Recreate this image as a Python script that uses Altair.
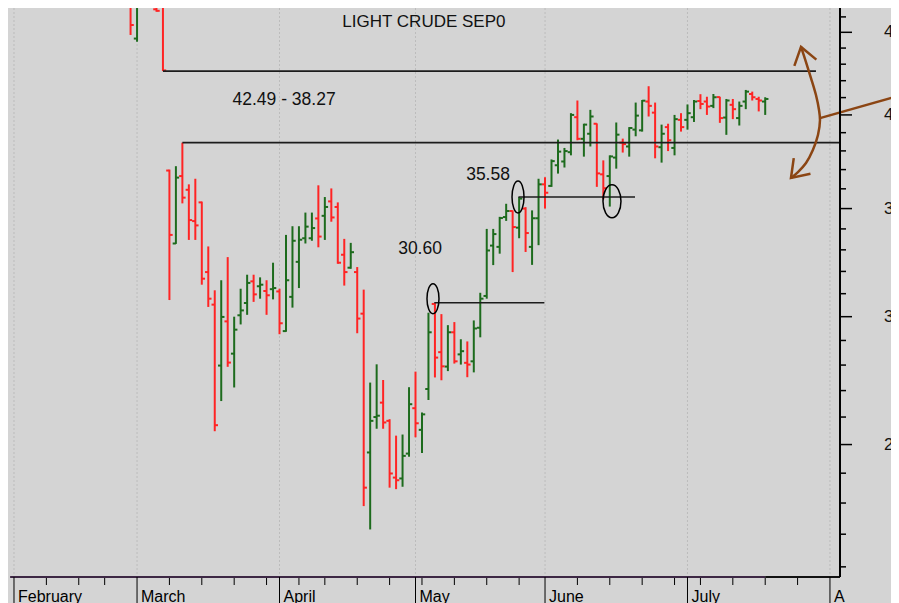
import altair as alt
import pandas as pd

# ---------------- data (trading-day index: 0 = 3 Feb 2020) ----------------
day = [18, 19, 22, 23,
       24, 25, 26, 27, 28, 29, 30, 31, 32, 33, 34, 35, 36, 37, 38, 39, 40,
       41, 42, 43, 44, 45, 46, 47, 48, 49, 50, 51, 52, 53, 54, 55, 56, 57, 58, 59, 60, 61,
       62, 63, 64, 65, 66, 67, 68, 69, 70, 71, 72, 73, 74, 75, 76, 77, 78, 79, 80, 81,
       82, 83, 84, 85, 86, 87, 88, 89, 90, 91, 92, 93, 94, 95, 96, 97, 98, 99, 100, 101, 102, 103,
       104, 105, 106, 107, 108, 109, 110, 111, 112, 113, 114, 115, 116]

open_ = [46.9, 44.6, 46.5, 46.9,
         36.95, 33.3, 36.66, 35.95, 34.38, 35.31, 31.97, 30.52, 27.98, 29.8, 28.46, 30.06, 30.59, 31.55, 31.33, 31.12, 31.2,
         31.1, 29.39, 30.86, 32.44, 33.55, 33.55, 34.51, 34.64, 35.36, 35.08, 32.77, 32.17, 31.97, 30.13, 24.72, 26.0, 26.54, 25.86, 23.85, 23.82, 24.68,
         26.33, 25.53, 27.06, 30.55, 28.52, 27.94, 29.34, 28.43, 28.09, 28.15, 29.53, 30.9, 33.2, 33.14, 34.58, 34.88, 34.06, 35.0, 33.14, 34.52,
         36.23, 36.15, 37.23, 37.43, 37.93, 39.87, 38.66, 38.94, 39.5, 36.75, 36.66, 37.64, 38.45, 38.24, 39.17, 39.13, 40.77, 40.13, 38.2, 39.31, 38.16, 39.72,
         39.72, 39.87, 40.8, 40.77, 40.52, 41.03, 39.85, 40.58, 39.82, 40.77, 41.21, 40.92, 40.77]

high = [47.2, 47.6, 48.0, 47.0,
        37.0, 37.18, 38.45, 36.23, 36.52, 35.35, 33.16, 31.15, 31.6, 32.66, 30.0, 31.22, 31.85, 31.85, 31.73, 31.6, 32.4,
        31.22, 33.71, 34.13, 34.13, 34.8, 34.8, 36.18, 35.58, 36.02, 35.31, 33.52, 33.33, 32.2, 31.18, 27.31, 28.03, 27.41, 25.92, 25.32, 25.36, 27.13,
        27.74, 26.17, 30.17, 30.60, 30.11, 29.64, 29.77, 29.05, 28.96, 29.84, 31.04, 34.0, 34.0, 34.59, 35.24, 34.91, 35.58, 35.07, 34.91, 36.52,
        36.6, 37.54, 38.62, 38.16, 40.1, 40.83, 39.5, 40.29, 39.52, 37.49, 37.76, 39.57, 38.67, 39.31, 40.71, 40.86, 41.67, 40.71, 39.45, 39.5, 40.0, 40.1,
        40.6, 40.86, 41.2, 41.05, 41.21, 41.05, 40.92, 40.92, 40.77, 41.45, 41.35, 41.05, 41.02]

low = [44.83, 44.4, 46.34, 42.58,
       30.72, 33.28, 35.26, 33.47, 33.47, 31.4, 30.42, 25.48, 26.6, 27.93, 27.12, 29.67, 30.08, 30.64, 30.78, 30.08, 30.75,
       29.26, 29.36, 30.39, 31.25, 33.3, 33.43, 33.12, 33.47, 34.35, 32.35, 31.36, 32.12, 29.3, 22.9, 22.15, 25.57, 25.57, 23.51, 23.46, 23.54, 24.57,
       25.26, 24.7, 26.64, 27.51, 27.4, 27.76, 28.06, 28.02, 27.52, 27.71, 29.13, 30.78, 32.29, 32.82, 34.39, 31.97, 33.55, 32.9, 32.3, 33.22,
       35.0, 36.1, 36.79, 37.11, 37.76, 38.58, 37.69, 38.24, 36.1, 35.47, 35.1, 37.05, 37.91, 37.69, 38.8, 39.06, 39.91, 37.6, 37.37, 37.99, 37.76, 39.06,
       39.17, 39.6, 40.33, 40.0, 40.39, 39.55, 38.88, 39.76, 39.4, 40.33, 40.83, 40.2, 40.0]

close = [45.47, 47.0, 46.4, 42.62,
         33.71, 36.58, 35.55, 34.43, 34.17, 31.67, 30.78, 25.7, 29.99, 28.1, 29.45, 30.27, 31.48, 30.97, 31.40, 30.93, 31.25,
         29.72, 31.6, 33.43, 33.48, 34.11, 34.04, 33.63, 35.08, 34.56, 32.4, 31.97, 32.89, 29.92, 23.51, 25.86, 26.05, 25.8, 23.99, 23.76, 24.6, 26.48,
         25.77, 26.1, 29.34, 28.3, 27.95, 29.34, 28.15, 28.56, 28.02, 29.5, 30.78, 32.97, 33.75, 34.53, 34.88, 34.09, 35.5, 33.8, 34.52, 36.23,
         35.8, 37.45, 37.96, 37.99, 40.0, 38.66, 39.45, 39.91, 36.8, 36.03, 37.7, 38.89, 38.37, 39.26, 39.96, 40.82, 40.52, 38.24, 38.94, 38.58, 39.76, 39.31,
         40.1, 40.77, 40.63, 40.48, 41.02, 39.82, 40.83, 40.33, 40.52, 41.35, 41.02, 40.83, 40.92]

# calendar / axis labels
month_names = ["February", "March", "April", "May", "June", "July", "August"]
month_start = [0, 19, 41, 62, 82, 104, 126]
week_start = [5, 10, 14, 24, 29, 34, 39, 44, 48, 53, 58, 63, 68, 73, 78,
              87, 92, 97, 102, 106, 111, 116, 121]
price_major = [25, 30, 35, 40, 45]
price_minor = [21, 22, 23, 24, 26, 27, 28, 29, 31, 32, 33, 34, 36, 37, 38, 39,
               41, 42, 43, 44, 46]

# annotations
title_text = ["LIGHT CRUDE SEP0"]
title_day = [63.3]
title_price = [45.67]

note_text = ["42.49 - 38.27", "35.58", "30.60"]
note_day = [41.7, 73.2, 62.7]
note_price = [40.86, 36.72, 33.05]

level_price = [42.58, 38.45, 35.58, 30.60]
level_start = [23, 26, 77.9, 64.9]
level_end = [123.84, 127.55, 95.9, 81.9]

ring_day = [64.7, 77.83, 92.34]
ring_price = [30.78, 35.58, 35.37]

curve_day = [121.53, 122.30, 123.07, 123.84, 124.31, 124.46, 124.15, 123.36, 122.30, 121.06, 119.98]
curve_price = [44.07, 43.13, 42.16, 41.15, 40.28, 39.71, 38.87, 38.05, 37.35, 36.87, 36.56]
arm_part = ["top", "top", "top", "bottom", "bottom", "bottom", "pointer", "pointer"]
arm_day = [120.5, 121.53, 123.9, 120.41, 119.98, 122.99, 124.46, 137.6]
arm_price = [42.90, 44.07, 43.28, 37.61, 36.56, 36.78, 39.82, 41.21]

# bottom baseline: indicator-coloured part, then plain part
indicator_span = [-0.6, 116.0]
plain_span = [116.0, 127.55]

# ---------------- styling ----------------
RED = "#ff2424"
GREEN = "#1d6b1d"
BROWN = "#8b4513"
BG = "#d4d4d4"
FONT = "Liberation Sans"
W, H = 832, 569

X_SCALE = alt.Scale(domain=[-0.9265, 127.55], nice=False, zero=False)
Y_SCALE = alt.Scale(type="log", domain=[20.698, 46.587], nice=False, zero=False)

def X(field):
    return alt.X(field, scale=X_SCALE, axis=None)

def Y(field):
    return alt.Y(field, scale=Y_SCALE, axis=None)

# ---------------- axes (drawn through the shared scales) ----------------
months = pd.DataFrame({"m": month_start, "name": month_names})
grid = alt.Chart(months).mark_rule(color="#bcbcbc", strokeWidth=1, strokeDash=[2, 2]).encode(
    x=X("m:Q"), y=alt.value(0), y2=alt.value(H))
x_domain_a = alt.Chart(pd.DataFrame({"s": [indicator_span[0]], "e": [indicator_span[1]]})).mark_rule(
    color="#3d2744", strokeWidth=2).encode(x=X("s:Q"), x2="e:Q", y=alt.value(H))
x_domain_b = alt.Chart(pd.DataFrame({"s": [plain_span[0]], "e": [plain_span[1]]})).mark_rule(
    color="#111111", strokeWidth=2).encode(x=X("s:Q"), x2="e:Q", y=alt.value(H))
month_ticks = alt.Chart(months).mark_rule(color="black", strokeWidth=1).encode(
    x=X("m:Q"), y=alt.value(H), y2=alt.value(H + 30))
month_labels = alt.Chart(months).transform_filter("datum.m < 120").mark_text(
    font=FONT, fontSize=16, color="black", align="left", baseline="alphabetic", dx=4).encode(
    x=X("m:Q"), y=alt.value(H + 25), text="name:N")
month_label_edge = alt.Chart(months).transform_filter("datum.m >= 120").mark_text(
    font=FONT, fontSize=16, color="black", align="left", baseline="alphabetic", dx=4,
    limit=16, ellipsis=" ").encode(
    x=X("m:Q"), y=alt.value(H + 25), text="name:N")
week_ticks = alt.Chart(pd.DataFrame({"w": week_start})).mark_rule(color="black", strokeWidth=1).encode(
    x=X("w:Q"), y=alt.value(H + 1), y2=alt.value(H + 8))

majors = pd.DataFrame({"v": price_major, "lab": [str(v) for v in price_major]})
y_domain = alt.Chart(majors).mark_rule(color="black", strokeWidth=2).encode(
    x=alt.value(W), y=alt.value(0), y2=alt.value(H))
major_ticks = alt.Chart(majors).mark_rule(color="black", strokeWidth=1.5).encode(
    y=Y("v:Q"), x=alt.value(W), x2=alt.value(W + 12))
major_labels = alt.Chart(majors).mark_text(
    font=FONT, fontSize=17, color="#111111", align="left", baseline="middle").encode(
    y=Y("v:Q"), x=alt.value(W + 44), text="lab:N")
minor_ticks = alt.Chart(pd.DataFrame({"v": price_minor})).mark_rule(color="black", strokeWidth=1.5).encode(
    y=Y("v:Q"), x=alt.value(W), x2=alt.value(W + 6))

# ---------------- OHLC bars ----------------
df = pd.DataFrame({"day": day, "open": open_, "high": high, "low": low, "close": close})
df["dir"] = ["up" if c > o else "down" for o, c in zip(open_, close)]
color = alt.Color("dir:N", scale=alt.Scale(domain=["up", "down"], range=[GREEN, RED]), legend=None)

bars = alt.Chart(df)
hl = bars.mark_rule(strokeWidth=2, clip=True).encode(
    x=X("day:Q"), y=Y("low:Q"), y2="high:Q", color=color)
opens = bars.transform_calculate(xl="datum.day - 0.5").mark_rule(strokeWidth=2, clip=True).encode(
    x=X("xl:Q"), x2="day:Q", y=Y("open:Q"), color=color)
closes = bars.transform_calculate(xr="datum.day + 0.5").mark_rule(strokeWidth=2, clip=True).encode(
    x=X("day:Q"), x2="xr:Q", y=Y("close:Q"), color=color)

# ---------------- annotations ----------------
levels = alt.Chart(pd.DataFrame({"s": level_start, "e": level_end, "p": level_price})).mark_rule(
    color="#1c1c1c", strokeWidth=1.6).encode(x=X("s:Q"), x2="e:Q", y=Y("p:Q"))

def ellipse_path(a):
    k = 0.5523
    return (f"M {a:.3f} 0 C {a:.3f} {k} {k*a:.3f} 1 0 1 C {-k*a:.3f} 1 {-a:.3f} {k} {-a:.3f} 0 "
            f"C {-a:.3f} {-k} {-k*a:.3f} -1 0 -1 C {k*a:.3f} -1 {a:.3f} {-k} {a:.3f} 0 Z")

ring_shapes = [(ellipse_path(0.40), 900), (ellipse_path(0.375), 1024), (ellipse_path(0.545), 1089)]
rings = []
for (shape, size), d, p in zip(ring_shapes, ring_day, ring_price):
    rings.append(alt.Chart(pd.DataFrame({"d": [d], "p": [p]})).mark_point(
        shape=shape, size=size, filled=False, color="black", strokeWidth=1.5, opacity=1).encode(
        x=X("d:Q"), y=Y("p:Q")))

title = alt.Chart(pd.DataFrame({"t": title_text, "d": title_day, "p": title_price})).mark_text(
    font=FONT, fontSize=17, color="#111111", align="center", baseline="middle").encode(
    x=X("d:Q"), y=Y("p:Q"), text="t:N")
notes = alt.Chart(pd.DataFrame({"t": note_text, "d": note_day, "p": note_price})).mark_text(
    font=FONT, fontSize=17.5, color="#111111", align="center", baseline="middle").encode(
    x=X("d:Q"), y=Y("p:Q"), text="t:N")

curve = alt.Chart(pd.DataFrame({"d": curve_day, "p": curve_price, "seq": list(range(len(curve_day)))})).mark_line(
    color=BROWN, strokeWidth=2.5, interpolate="catmull-rom").encode(
    x=X("d:Q"), y=Y("p:Q"), order="seq:Q")
arms = alt.Chart(pd.DataFrame({"part": arm_part, "d": arm_day, "p": arm_price,
                               "seq": list(range(len(arm_day)))})).mark_line(
    color=BROWN, strokeWidth=2.5).encode(
    x=X("d:Q"), y=Y("p:Q"), detail="part:N", order="seq:Q")

chart = alt.layer(
    grid, hl, opens, closes, levels, *rings, title, notes, curve, arms,
    x_domain_a, x_domain_b, month_ticks, month_labels, month_label_edge, week_ticks,
    y_domain, major_ticks, major_labels, minor_ticks,
).properties(
    width=W, height=H,
    autosize=alt.AutoSizeParams(type="none"),
    padding={"left": 0, "top": 0, "right": 51, "bottom": 26},
    background=BG,
).configure_view(fill=BG, strokeWidth=0)

chart.save("out.html", embed_options={"renderer": "svg", "actions": False})
